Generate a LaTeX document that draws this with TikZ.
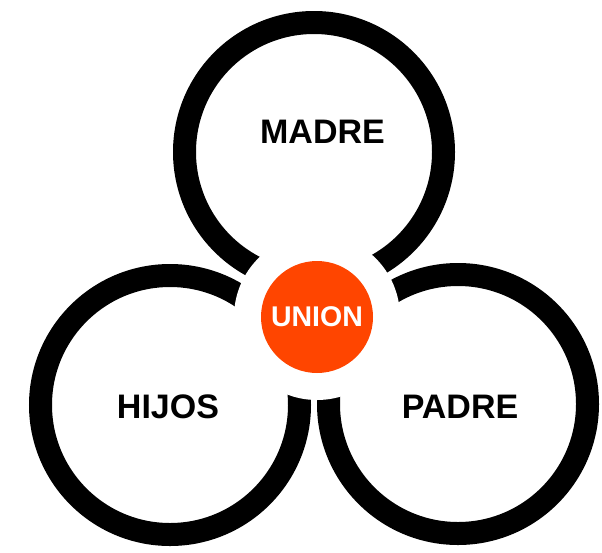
\documentclass[tikz,border=0pt]{standalone}
\usepackage{fontspec}
\setmainfont{Liberation Sans}
\definecolor{unionorange}{RGB}{255,69,0}
\begin{document}
\begin{tikzpicture}[x=1pt,y=-1pt,
  ring/.style={circle, draw=black, line width=23pt, inner sep=0pt, outer sep=0pt, minimum size=259pt},
  label/.style={font=\bfseries\fontsize{34}{36}\selectfont, text=black, inner sep=0pt},
  halo/.style={circle, fill=white, inner sep=0pt, minimum size=166pt},
  core/.style={circle, fill=unionorange, inner sep=0pt, minimum size=112pt, text=white, font=\bfseries\fontsize{28.5}{30}\selectfont}]
\useasboundingbox (0,0) rectangle (602,552);
\fill[white] (0,0) rectangle (602,552);
\node[ring] (madrering) at (314,152) {};
\node[ring] (hijosring) at (170,405) {};
\node[ring] (padrering) at (458,404) {};
\node[halo] (halo) at (317,317) {};
\node[core] (union) at (317,317) {UNION};
\node[label] (madre) at (322.5,132) {MADRE};
\node[label] (hijos) at (168,406.5) {HIJOS};
\node[label] (padre) at (460,406.5) {PADRE};
\end{tikzpicture}
\end{document}
